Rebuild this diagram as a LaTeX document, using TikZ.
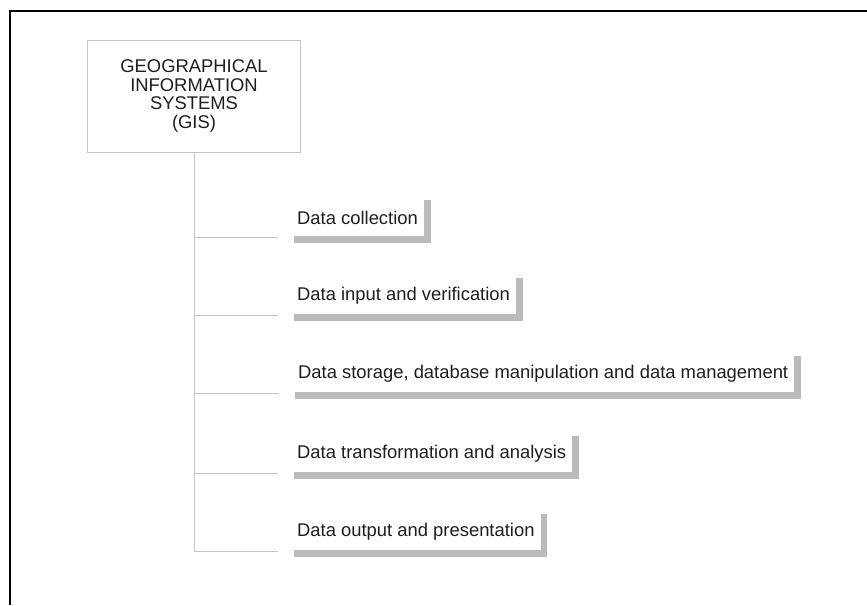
\documentclass[tikz,border=0pt]{standalone}
\usepackage{fontspec}
\setmainfont{Liberation Sans}
\usetikzlibrary{positioning}
\usetikzlibrary{calc}
\definecolor{barGray}{HTML}{BBBBBB}
\definecolor{lineGray}{HTML}{C4C4C4}
\definecolor{textDark}{HTML}{1E1E1E}
\begin{document}
\begin{tikzpicture}[x=1pt,y=-1pt]
				\tikzset{topbox/.style = {shape=rectangle, draw=lineGray, line width=1pt, minimum width=213pt, minimum height=112pt, align=center, text=textDark, font=\fontsize{18.4}{18.6}\selectfont}}
				\tikzset{taskbox/.style = {shape=rectangle, anchor=south west, minimum height=36pt, inner xsep=6pt, inner ysep=0pt, text=textDark, font=\fontsize{18.4}{18.6}\selectfont}}
				\tikzset{shadowbar/.style = {draw=barGray, line width=6.5pt}}
				\tikzset{branch/.style = {draw=lineGray, line width=1pt}}
				\useasboundingbox (0,0) rectangle (867,605);
				\fill[white] (0,0) rectangle (867,605);
				\draw[line width=2pt] (10,605) -- (10,10.5) -- (867,10.5);
				
				\node[topbox] (GIS) at (194,96) {GEOGRAPHICAL \\ INFORMATION \\ SYSTEMS \\ (GIS)};
				
				\node[taskbox] (COLLECT) at (291,236) {Data collection};
				\node[taskbox] (INPUT) at (291,314) {Data input and verification};
				\node[taskbox] (STORAGE) at (292,392) {Data storage, database manipulation and data management};
				\node[taskbox] (TRANSFORM) at (291,472) {Data transformation and analysis};
				\node[taskbox] (OUTPUT) at (291,550) {Data output and presentation};
				
				\foreach \n in {COLLECT,INPUT,STORAGE,TRANSFORM,OUTPUT}{
					\draw[shadowbar] ([xshift=3pt,yshift=-3.25pt]\n.south west) -| ([xshift=3.25pt]\n.north east);
					\draw[branch] (GIS.south) |- ([xshift=-13pt,yshift=-1pt]\n.south west);
				}
				
				\end{tikzpicture}
\end{document}
